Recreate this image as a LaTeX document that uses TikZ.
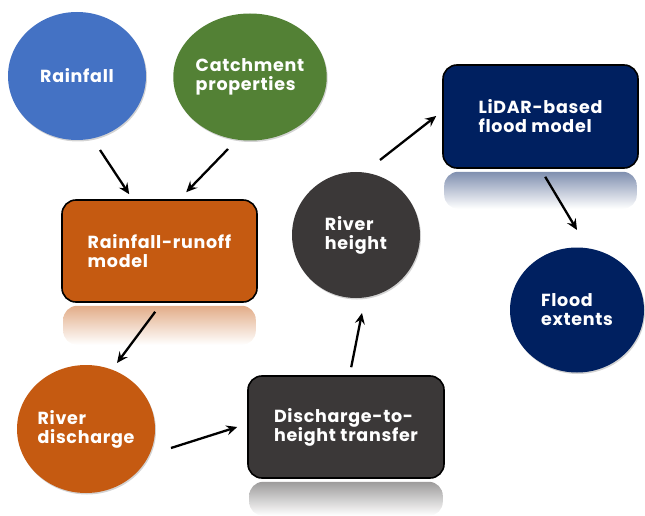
\documentclass[tikz,border=0pt]{standalone}
\usepackage{fontspec}
\setmainfont{Poppins}
\newfontfamily\lblfont{Poppins}[LetterSpace=4]
\usetikzlibrary{arrows.meta,shapes.geometric,shadows,calc}
\definecolor{cblue}{HTML}{4472C4}
\definecolor{cgreen}{HTML}{538135}
\definecolor{corange}{HTML}{C55A11}
\definecolor{cdark}{HTML}{3B3838}
\definecolor{cnavy}{HTML}{002060}
\begin{document}
\begin{tikzpicture}[x=1pt,y=1pt,
  lbl/.style={text=white, font=\lblfont\bfseries\fontsize{17.5}{19}\selectfont, align=left},
  blob/.style={ellipse, lbl, inner sep=0pt, drop shadow={opacity=0.35,shadow xshift=1pt,shadow yshift=-1.5pt}},
  box/.style={rectangle, rounded corners=14pt, draw=black, line width=1.6pt, lbl, inner sep=0pt},
  refl/.style={rounded corners=14pt, bottom color=white},
  arr/.style={-{Stealth[length=11pt,width=10pt,inset=4pt]}, line width=2.3pt, black}]
\useasboundingbox (0,0) rectangle (645,515);

\node[blob, fill=cblue, minimum width=138pt, minimum height=128pt] (rain) at (77,439) {Rainfall};
\node[blob, fill=cgreen, minimum width=136pt, minimum height=127pt] (catch) at (250,438) {Catchment\\properties};
\node[box, fill=corange, minimum width=195pt, minimum height=102pt] (rr) at (159.5,264) {Rainfall-runoff\\model};
\node[blob, fill=corange, minimum width=138pt, minimum height=128pt] (rd) at (86,86) {River\\discharge};
\node[box, fill=cdark, minimum width=196pt, minimum height=102pt] (dh) at (346,88) {Discharge-to-\\height transfer};
\node[blob, fill=cdark, minimum width=128pt, minimum height=126pt] (rh) at (356,280) {River\\height};
\node[box, fill=cnavy, minimum width=195pt, minimum height=103pt] (lidar) at (540.5,398.5) {LiDAR-based\\flood model};
\node[blob, fill=cnavy, minimum width=134pt, minimum height=125pt] (fe) at (577,205) {Flood\\extents};

\shade[refl, top color=corange!50!white] ($(rr.south west)+(2,-3)$) rectangle ($(rr.south east)+(-2,-42)$);
\shade[refl, top color=cdark!50!white] ($(dh.south west)+(2,-3)$) rectangle ($(dh.south east)+(-2,-37)$);
\shade[refl, top color=cnavy!50!white] ($(lidar.south west)+(2,-3)$) rectangle ($(lidar.south east)+(-2,-40)$);

\draw[arr] ($(rain.center)+(23,-74)$) -- ($(rr.north west)+(68,5)$);
\draw[arr] ($(catch.center)+(-22,-72)$) -- ($(rr.north west)+(125,7)$);
\draw[arr] ($(rr.south west)+(94,-9)$) -- ($(rd.center)+(31,66)$);
\draw[arr] ($(rd.center)+(85,-19)$) -- ($(dh.west)+(-10,0)$);
\draw[arr] ($(dh.north west)+(104,8)$) -- ($(rh.center)+(6,-78)$);
\draw[arr] ($(rh.center)+(24,75)$) -- ($(lidar.west)+(-6,0.5)$);
\draw[arr] ($(lidar.south west)+(103,-8)$) -- ($(fe.center)+(0,80)$);
\end{tikzpicture}
\end{document}
